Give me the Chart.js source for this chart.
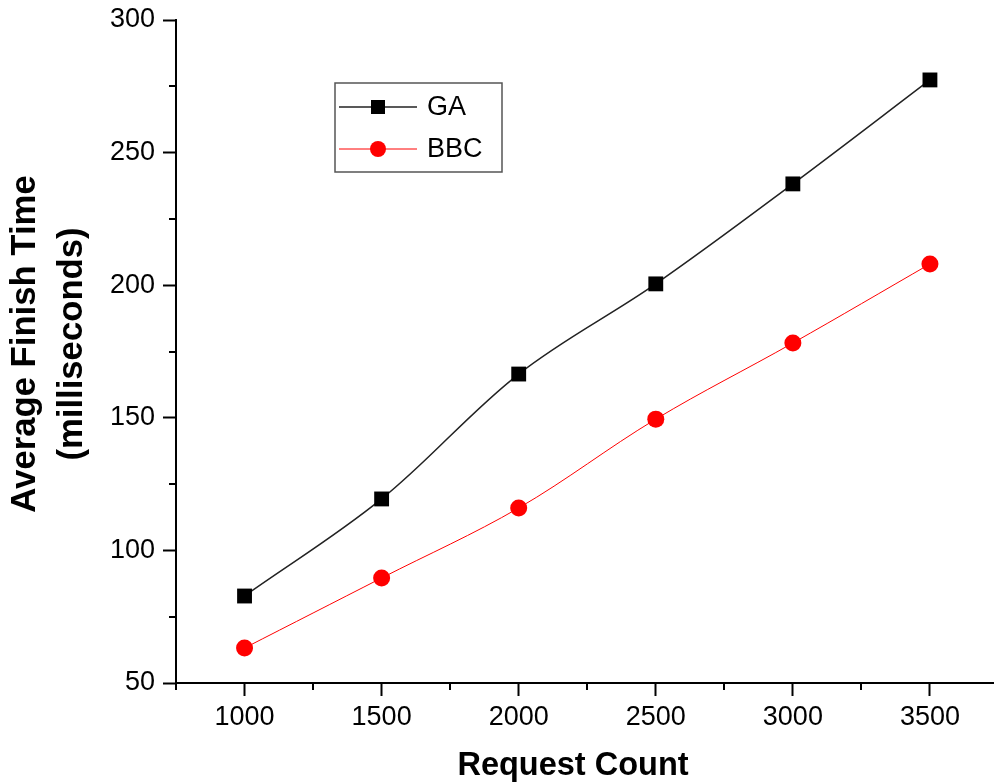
<!DOCTYPE html>
<html>
<head>
<meta charset="utf-8">
<script src="https://cdn.jsdelivr.net/npm/chart.js@4/dist/chart.umd.min.js"></script>
<style>
  body { margin: 0; background: #fff; }
  canvas { display: block; }
</style>
</head>
<body>
<canvas id="finish-chart" width="995" height="784"></canvas>
<script>
// values
var requestCounts = [1000, 1500, 2000, 2500, 3000, 3500];
var gaTimes = [82.8, 119.4, 166.5, 200.5, 238.2, 277.4];
var bbcTimes = [63.2, 89.6, 116.0, 149.5, 178.2, 208.0];
var xTickValues = [1000, 1500, 2000, 2500, 3000, 3500];
var xMinorTicks = [750, 1250, 1750, 2250, 2750, 3250];
var yMinorTicks = [75, 125, 175, 225, 275];
var xTitle = 'Request Count';
var yTitle = ['Average Finish Time', '(milliseconds)'];

var FONT = "'Liberation Sans', Arial, sans-serif";

function toPoints(ys) {
  return requestCounts.map(function (x, i) { return { x: x, y: ys[i] }; });
}

// minor tick marks outside the axes (Chart.js has no minor ticks)
var minorTicks = {
  id: 'minorTicks',
  afterDraw: function (chart) {
    var ctx = chart.ctx, xs = chart.scales.x, ys = chart.scales.y;
    var area = chart.chartArea;
    ctx.save();
    ctx.strokeStyle = '#000';
    ctx.lineWidth = 2;
    ctx.beginPath();
    xMinorTicks.forEach(function (v) {
      var px = Math.round(xs.getPixelForValue(v));
      ctx.moveTo(px, area.bottom);
      ctx.lineTo(px, area.bottom + 7);
    });
    yMinorTicks.forEach(function (v) {
      var py = Math.round(ys.getPixelForValue(v));
      ctx.moveTo(area.left, py);
      ctx.lineTo(area.left - 7, py);
    });
    ctx.stroke();
    ctx.restore();
  }
};

// axis titles, placed like the original (not centred on the axes)
var axisTitles = {
  id: 'axisTitles',
  afterDraw: function (chart) {
    var ctx = chart.ctx;
    ctx.save();
    ctx.fillStyle = '#000';
    ctx.textAlign = 'center';
    ctx.textBaseline = 'middle';
    ctx.font = 'bold 32.5px ' + FONT;
    ctx.fillText(xTitle, 573, 766);
    ctx.font = 'bold 34.7px ' + FONT;
    ctx.translate(0, 344);
    ctx.rotate(-Math.PI / 2);
    ctx.fillText(yTitle[0], 0, 25);
    ctx.fillText(yTitle[1], 0, 72);
    ctx.restore();
  }
};

// boxed legend inside the plot, Origin style
var boxLegend = {
  id: 'boxLegend',
  afterDatasetsDraw: function (chart) {
    var ctx = chart.ctx;
    var ds = chart.data.datasets;
    ctx.save();
    ctx.strokeStyle = '#555';
    ctx.lineWidth = 1.5;
    ctx.strokeRect(335, 83, 167, 89);
    var rows = [107, 149];
    ds.forEach(function (d, i) {
      var y = rows[i];
      ctx.strokeStyle = d.borderColor;
      ctx.lineWidth = d.borderWidth;
      ctx.beginPath();
      ctx.moveTo(339, y);
      ctx.lineTo(417, y);
      ctx.stroke();
      ctx.fillStyle = d.pointBackgroundColor;
      if (d.pointStyle === 'rect') {
        ctx.fillRect(378 - 7, y - 7, 14, 14);
      } else {
        ctx.beginPath();
        ctx.arc(378, y, 8, 0, Math.PI * 2);
        ctx.fill();
      }
      ctx.fillStyle = '#000';
      ctx.font = '27px ' + FONT;
      ctx.textBaseline = 'middle';
      ctx.textAlign = 'left';
      ctx.fillText(d.label, 427, y + 1);
    });
    ctx.restore();
  }
};

function noPad(s) {
  s.paddingTop = 0; s.paddingBottom = 0; s.paddingLeft = 0; s.paddingRight = 0;
}

new Chart(document.getElementById('finish-chart'), {
  type: 'line',
  data: {
    datasets: [
      {
        label: 'GA',
        data: toPoints(gaTimes),
        borderColor: '#222',
        borderWidth: 1.5,
        pointStyle: 'rect',
        pointRadius: 10.5,
        pointBackgroundColor: '#000',
        pointBorderWidth: 0,
        tension: 0.35
      },
      {
        label: 'BBC',
        data: toPoints(bbcTimes),
        borderColor: '#ff0000',
        borderWidth: 1,
        pointStyle: 'circle',
        pointRadius: 8.5,
        pointBackgroundColor: '#ff0000',
        pointBorderWidth: 0,
        tension: 0.35
      }
    ]
  },
  options: {
    responsive: false,
    animation: false,
    layout: { autoPadding: false, padding: { top: 20, right: 2, left: 0, bottom: 0 } },
    plugins: {
      legend: { display: false },
      tooltip: { enabled: false }
    },
    scales: {
      x: {
        type: 'linear',
        min: 750,
        max: 3730,
        afterBuildTicks: function (s) {
          s.ticks = xTickValues.map(function (v) { return { value: v }; });
        },
        afterFit: function (s) { s.height = 101; noPad(s); },
        grid: { drawOnChartArea: false, tickLength: 13, tickWidth: 2, tickColor: '#000' },
        border: { display: true, color: '#000', width: 2 },
        ticks: {
          color: '#000', padding: 5, maxRotation: 0,
          font: { family: FONT, size: 27 },
          callback: function (v) { return String(v); }
        }
      },
      y: {
        min: 50,
        max: 300,
        afterFit: function (s) { s.width = 176; noPad(s); },
        grid: { drawOnChartArea: false, tickLength: 13, tickWidth: 2, tickColor: '#000' },
        border: { display: true, color: '#000', width: 2 },
        ticks: { stepSize: 50, color: '#000', padding: 8, font: { family: FONT, size: 27 } }
      }
    }
  },
  plugins: [minorTicks, boxLegend, axisTitles]
});
</script>
</body>
</html>
